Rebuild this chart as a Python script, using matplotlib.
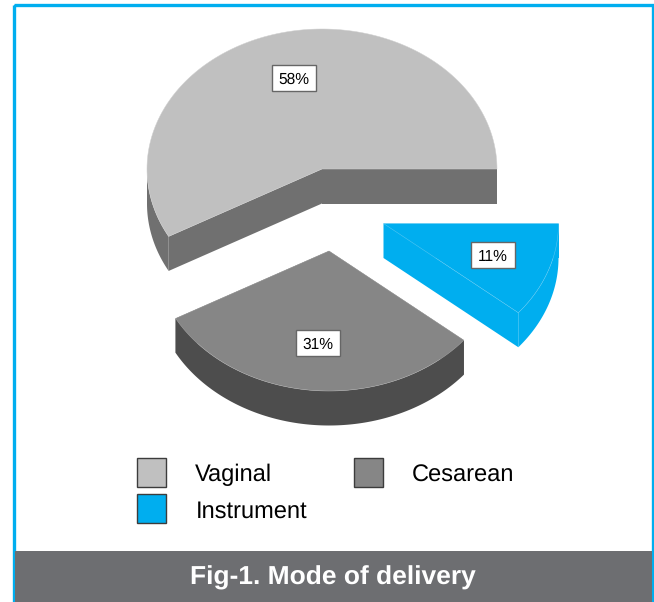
import numpy as np
import matplotlib
matplotlib.use("Agg")
import matplotlib.pyplot as plt
from matplotlib.patches import Polygon, Rectangle

plt.rcParams['font.family'] = ['Liberation Sans', 'DejaVu Sans']
plt.rcParams['text.hinting'] = 'no_hinting'
plt.rcParams['text.hinting_factor'] = 8

categories = ["Vaginal", "Cesarean", "Instrument"]
values = [58, 31, 11]
labels = ["58%", "31%", "11%"]
title = "Fig-1. Mode of delivery"

top_colors = ["#c0c0c0", "#868686", "#00aeef"]
side_colors = ["#707070", "#4d4d4d", "#00aeef"]
edge_colors = ["#cfcfcf", "#a8a8a8", "#5cc8f2"]
centers = [(322, 169), (329, 251), (383.5, 223.5)]
label_pos = [(294, 78), (318, 343), (493, 255)]
RX, RY, DEPTH = 175, 140, 34.5
BLUE = "#00aeef"
BAR = "#6d6e71"

fig = plt.figure(figsize=(6.54, 6.02), dpi=100, facecolor="white")
ax = fig.add_axes([0, 0, 1, 1])
ax.set_xlim(0, 654)
ax.set_ylim(602, 0)
ax.axis("off")


def rim(c, a0, a1, dy=0.0):
    t = np.radians(np.linspace(a0, a1, 160))
    return np.column_stack([c[0] + RX * np.cos(t), c[1] - RY * np.sin(t) + dy])


# frame
ax.add_patch(Rectangle((13.5, 5), 639.5, 600, fc="none", ec=BLUE, lw=2.4, zorder=1))

# slices, angles accumulated counter-clockwise from 3 o'clock
bounds = np.concatenate([[0], np.cumsum(values)]) * 3.6
for i, c in enumerate(centers):
    a0, a1 = bounds[i], bounds[i + 1]
    z = 2 + i
    side, top, edge = side_colors[i], top_colors[i], edge_colors[i]
    # inner walls
    for a in (a0, a1):
        p = rim(c, a, a)[0]
        wall = [c, tuple(p), (p[0], p[1] + DEPTH), (c[0], c[1] + DEPTH)]
        ax.add_patch(Polygon(wall, fc=side, ec="none", zorder=z))
    # outer wall: only the part on the front half (180-360 degrees)
    f0, f1 = max(a0, 180), min(a1, 360)
    if f1 > f0:
        up = rim(c, f0, f1)
        low = rim(c, f0, f1, DEPTH)[::-1]
        ax.add_patch(Polygon(np.vstack([up, low]), fc=side, ec="none", zorder=z))
    # top face
    ax.add_patch(Polygon(np.vstack([[c], rim(c, a0, a1)]), closed=True, fc=top,
                         ec=edge, lw=0.35, zorder=z + 0.1))

# value labels
for (x, y), s in zip(label_pos, labels):
    ax.add_patch(Rectangle((x - 22, y - 13), 44, 26, fc="white", ec="#666666", lw=1, zorder=8))
    ax.text(x, y + 5.5, s, ha="center", va="baseline", fontsize=11.2, color="black", zorder=9)

# legend
swatches = [(137, 458), (354, 458), (137, 494)]
text_pos = [(195, 481.5), (412, 481.5), (196, 517.5)]
for i, name in enumerate(categories):
    ax.add_patch(Rectangle(swatches[i], 29, 29, fc=top_colors[i], ec="#3c3c3c", lw=1, zorder=5))
    ax.text(*text_pos[i], name, ha="left", va="baseline", fontsize=17.06, color="black", zorder=5)

# caption bar
ax.add_patch(Rectangle((15, 551), 637, 51, fc=BAR, ec="none", zorder=6))
ax.text(333, 584, title, ha="center", va="baseline", fontsize=19, fontweight="bold",
        color="white", zorder=7)

fig.savefig("out.png", dpi=100, facecolor="white")
